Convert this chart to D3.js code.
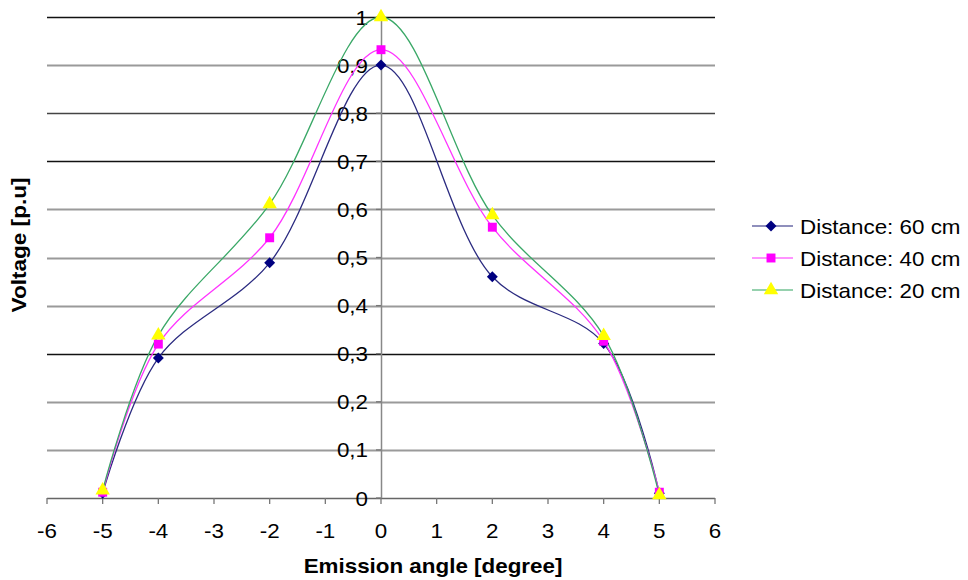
<!DOCTYPE html>
<html><head><meta charset="utf-8">
<script src="https://cdn.jsdelivr.net/npm/d3@7"></script>
<style>body{margin:0;background:#fff}svg{display:block}text{font-family:"Liberation Sans",Arial,sans-serif;fill:#000}</style>
</head><body>
<script>
const angles = [-5, -4, -2, 0, 2, 4, 5];
const dist60 = [0.010, 0.291, 0.489, 0.900, 0.460, 0.321, 0.010];
const dist40 = [0.012, 0.320, 0.541, 0.932, 0.563, 0.326, 0.012];
const dist20 = [0.016, 0.338, 0.611, 1.000, 0.588, 0.337, 0.006];
const seriesNames = ["Distance: 60 cm", "Distance: 40 cm", "Distance: 20 cm"];
const xTicks = [-6, -5, -4, -3, -2, -1, 0, 1, 2, 3, 4, 5, 6];
const yTicks = [0, 0.1, 0.2, 0.3, 0.4, 0.5, 0.6, 0.7, 0.8, 0.9, 1];
const yTickLabels = ["0", "0,1", "0,2", "0,3", "0,4", "0,5", "0,6", "0,7", "0,8", "0,9", "1"];

const W = 968, H = 580;
const svg = d3.select("body").append("svg").attr("width", W).attr("height", H);
const x = d3.scaleLinear().domain([-6, 6]).range([47, 715]);
const y = d3.scaleLinear().domain([0, 1]).range([498, 17]);
const SX = 1.12; // horizontal stretch of the original's text

function stext(g, px, py, str, anchor, opts = {}) {
  const t = g.append("g").attr("transform", `translate(${px},${py}) scale(${SX},1)`)
    .append("text").attr("text-anchor", anchor).attr("font-size", opts.size || 20).text(str);
  if (opts.bold) t.attr("font-weight", "bold");
  return t;
}

// gridlines
const gridStyle = {1: "#111", 0.7: "#111", 0.3: "#111", 0.8: "#444"};
svg.append("g").selectAll("line").data(yTicks.filter(d => d > 0)).join("line")
  .attr("x1", x(-6)).attr("x2", x(6))
  .attr("y1", d => Math.round(y(d)) + 0.5).attr("y2", d => Math.round(y(d)) + 0.5)
  .attr("stroke", d => gridStyle[d] || "#9a9a9a")
  .attr("stroke-width", d => gridStyle[d] ? 1.3 : 1.8);

// x axis
const gx = svg.append("g");
gx.append("line").attr("x1", x(-6)).attr("x2", x(6)).attr("y1", y(0) + 0.5).attr("y2", y(0) + 0.5)
  .attr("stroke", "#666").attr("stroke-width", 1.5);
gx.selectAll("line.t").data(xTicks).join("line").attr("class", "t")
  .attr("x1", d => x(d)).attr("x2", d => x(d)).attr("y1", y(0)).attr("y2", y(0) + 6)
  .attr("stroke", "#777").attr("stroke-width", 1.3);
xTicks.forEach(d => stext(gx, x(d), 538, String(d), "middle"));

// y axis at x = 0
const gy = svg.append("g");
gy.append("line").attr("x1", x(0) + 0.5).attr("x2", x(0) + 0.5).attr("y1", y(1)).attr("y2", y(0))
  .attr("stroke", "#888").attr("stroke-width", 1.5);
gy.selectAll("line.t").data(yTicks).join("line").attr("class", "t")
  .attr("x1", x(0) - 5).attr("x2", x(0)).attr("y1", d => y(d)).attr("y2", d => y(d))
  .attr("stroke", "#777").attr("stroke-width", 1.3);
yTicks.forEach((d, i) => stext(gy, 368, y(d) + 7.5, yTickLabels[i], "end"));

// axis titles
stext(svg, 433, 573, "Emission angle [degree]", "middle", {bold: true});
svg.append("text").attr("transform", `translate(26,245) rotate(-90)`)
  .attr("text-anchor", "middle").attr("font-size", 20).attr("font-weight", "bold")
  .attr("textLength", 135).attr("lengthAdjust", "spacingAndGlyphs")
  .text("Voltage [p.u]");

// series
const diamond = {draw(ctx, size) { const r = Math.sqrt(size / 2); ctx.moveTo(0, -r); ctx.lineTo(r, 0); ctx.lineTo(0, r); ctx.lineTo(-r, 0); ctx.closePath(); }};
const series = [
  {name: seriesNames[0], values: dist60, line: "#2b2b80", fill: "#000080", shape: diamond, size: 60},
  {name: seriesNames[1], values: dist40, line: "#ff33ff", fill: "#ff00ff", shape: d3.symbolSquare, size: 80},
  {name: seriesNames[2], values: dist20, line: "#3aa867", fill: "#ffff00", shape: d3.symbolTriangle, size: 90},
];
const lineGen = d3.line().x(d => x(d[0])).y(d => y(d[1])).curve(d3.curveCatmullRom.alpha(0.5));
series.forEach(s => {
  const pts = angles.map((a, i) => [a, s.values[i]]);
  svg.append("path").datum(pts).attr("d", lineGen).attr("fill", "none")
    .attr("stroke", s.line).attr("stroke-width", 1.3);
});
series.forEach(s => {
  const pts = angles.map((a, i) => [a, s.values[i]]);
  svg.append("g").selectAll("path").data(pts).join("path")
    .attr("d", d3.symbol().type(s.shape).size(s.size))
    .attr("transform", d => `translate(${x(d[0])},${y(d[1])})`)
    .attr("fill", s.fill);
});

// legend
const leg = svg.append("g");
series.forEach((s, i) => {
  const cy = 226 + i * 32;
  leg.append("line").attr("x1", 752).attr("x2", 793).attr("y1", cy).attr("y2", cy)
    .attr("stroke", s.line).attr("stroke-width", 1.5).attr("opacity", 0.7);
  leg.append("path").attr("d", d3.symbol().type(s.shape).size(s.size))
    .attr("transform", `translate(771,${cy})`).attr("fill", s.fill);
  stext(leg, 800, cy + 7.5, s.name, "start");
});
</script>
</body></html>
